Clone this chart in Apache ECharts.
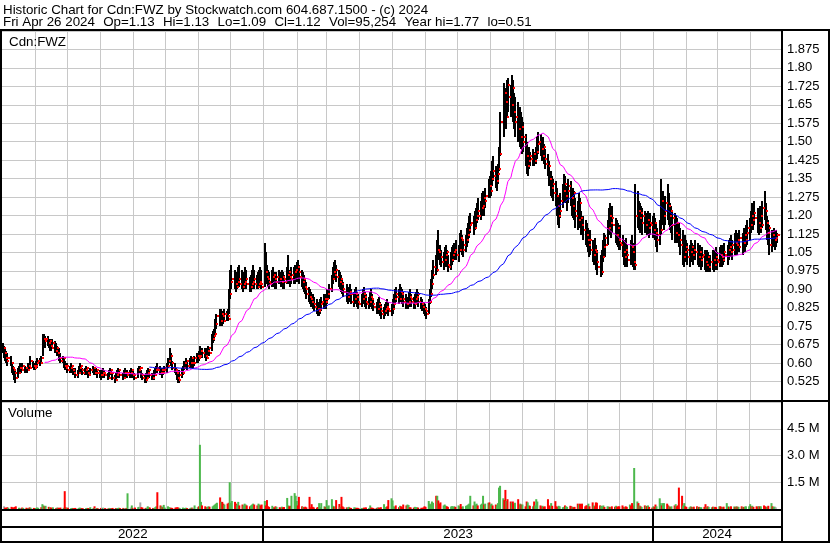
<!DOCTYPE html>
<html><head><meta charset="utf-8">
<script src="https://cdn.jsdelivr.net/npm/echarts@6/dist/echarts.min.js"></script>
<style>html,body{margin:0;padding:0;background:#fff}#c{width:830px;height:543px}</style>
</head><body><div id="c"></div>
<script>
// ---------------- DATA (daily, trading days from 2022-05-02 to 2024-04-26) ----------------
const titleLine1 = 'Historic Chart for Cdn:FWZ by Stockwatch.com 604.687.1500 - (c) 2024';
const titleFields2 = ['Fri Apr 26 2024', 'Op=1.13', 'Hi=1.13', 'Lo=1.09', 'Cl=1.12', 'Vol=95,254', 'Year hi=1.77', 'lo=0.51'];
const symbolLabel = 'Cdn:FWZ';
const volumeLabel = 'Volume';
const yearLabels = ['2022', '2023', '2024'];

const highs = [
/*2022-05*/ .68,.67,.66,.65,.64,.63,.60,.59,.58,.57,.58,.59,.60,.59,.60,.59,.58,.60,.59,.63,.61,.60,
/*2022-06*/ .60,.61,.62,.62,.63,.72,.72,.71,.71,.70,.70,.69,.70,.69,.68,.67,.66,.64,.63,.62,.61,.60,
/*2022-07*/ .60,.59,.60,.59,.58,.58,.57,.59,.60,.59,.58,.58,.59,.58,.57,.58,.59,.58,.57,.58,.57,
/*2022-08*/ .57,.56,.57,.58,.57,.56,.57,.58,.57,.56,.55,.56,.57,.58,.57,.56,.57,.58,.57,.57,.57,.58,.57,
/*2022-09*/ .57,.56,.58,.59,.59,.57,.56,.55,.56,.57,.58,.57,.56,.57,.58,.59,.60,.59,.58,.57,.58,.59,
/*2022-10*/ .60,.62,.66,.64,.61,.60,.58,.57,.56,.57,.58,.59,.61,.62,.61,.62,.63,.62,.61,.63,.64,
/*2022-11*/ .64,.65,.67,.66,.66,.65,.66,.67,.66,.72,.73,.74,.78,.80,.82,.82,.81,.80,.82,.81,.82,.90,
/*2022-12*/ .98,1.00,.98,.97,.96,.99,1.00,.98,.96,.97,.99,.98,.95,.96,.98,1.00,.98,.96,.97,.98,.99,.98,
/*2023-01*/ 1.09,1.05,1.00,.98,.97,.98,.99,.97,.96,.97,.98,.97,.98,.97,.96,.99,1.04,.98,.97,.99,.99,1.00,
/*2023-02*/ 1.01,1.02,1.00,.98,.97,.96,.94,.93,.91,.90,.89,.88,.87,.86,.85,.84,.86,.87,.88,.87,
/*2023-03*/ .88,.90,.92,.96,.99,1.01,1.02,1.00,.98,.97,.96,.94,.93,.92,.90,.91,.92,.90,.89,.90,.91,.89,.88,
/*2023-04*/ .88,.90,.91,.89,.88,.87,.89,.90,.88,.86,.85,.86,.87,.85,.84,.83,.84,.85,.86,.85,
/*2023-05*/ .84,.86,.88,.90,.91,.90,.92,.91,.90,.89,.88,.87,.89,.90,.88,.87,.88,.89,.90,.89,.87,.86,.85,
/*2023-06*/ .84,.83,.86,.90,.94,.98,1.02,1.04,1.10,1.14,1.08,1.06,1.05,1.07,1.08,1.06,1.04,1.05,1.07,1.08,1.09,1.10,
/*2023-07*/ 1.08,1.13,1.14,1.12,1.10,1.12,1.15,1.17,1.20,1.21,1.20,1.22,1.23,1.25,1.27,1.26,1.29,1.30,1.28,1.31,1.35,
/*2023-08*/ 1.36,1.38,1.42,1.44,1.40,1.39,1.41,1.48,1.62,1.74,1.72,1.70,1.75,1.76,1.73,1.77,1.75,1.70,1.68,1.66,1.64,1.62,1.60,
/*2023-09*/ 1.58,1.53,1.50,1.46,1.48,1.46,1.47,1.46,1.48,1.52,1.54,1.53,1.50,1.52,1.49,1.47,1.45,1.42,1.38,1.36,1.35,
/*2023-10*/ 1.34,1.31,1.28,1.25,1.29,1.33,1.37,1.36,1.32,1.35,1.34,1.30,1.31,1.30,1.27,1.26,1.29,1.27,1.22,1.20,1.18,1.17,
/*2023-11*/ 1.15,1.13,1.14,1.10,1.09,1.11,1.08,1.06,1.04,1.06,1.10,1.13,1.12,1.18,1.23,1.25,1.22,1.24,1.19,1.18,1.17,1.16,
/*2023-12*/ 1.16,1.12,1.10,1.09,1.11,1.08,1.10,1.12,1.09,1.06,1.33,1.30,1.26,1.25,1.24,1.23,1.22,1.21,1.22,1.20,1.21,
/*2024-01*/ 1.20,1.21,1.19,1.17,1.15,1.18,1.35,1.30,1.26,1.28,1.33,1.29,1.25,1.24,1.22,1.21,1.20,1.19,1.17,1.15,1.14,1.10,1.12,
/*2024-02*/ 1.10,1.09,1.08,1.10,1.09,1.08,1.10,1.09,1.07,1.08,1.06,1.07,1.06,1.05,1.06,1.05,1.04,1.06,1.05,1.06,1.07,
/*2024-03*/ 1.05,1.07,1.08,1.06,1.08,1.09,1.08,1.10,1.11,1.12,1.10,1.13,1.14,1.12,1.13,1.14,1.13,1.15,1.14,1.16,1.18,
/*2024-04*/ 1.19,1.22,1.25,1.24,1.26,1.23,1.21,1.24,1.22,1.26,1.30,1.25,1.20,1.18,1.16,1.14,1.15,1.13,1.14,1.13
];
const lows = [
/*2022-05*/ .64,.62,.61,.60,.59,.59,.56,.55,.53,.52,.54,.56,.57,.56,.57,.56,.56,.57,.57,.58,.58,.57,
/*2022-06*/ .57,.58,.58,.59,.60,.63,.67,.66,.67,.66,.65,.65,.66,.64,.64,.63,.61,.60,.60,.58,.57,.57,
/*2022-07*/ .56,.56,.57,.56,.55,.54,.54,.56,.57,.56,.55,.55,.56,.55,.54,.55,.56,.55,.55,.55,.54,
/*2022-08*/ .54,.53,.54,.55,.54,.53,.54,.55,.55,.53,.52,.53,.54,.55,.54,.53,.54,.55,.54,.54,.54,.55,.54,
/*2022-09*/ .54,.53,.54,.56,.56,.54,.53,.52,.52,.54,.55,.54,.53,.53,.55,.56,.56,.55,.55,.54,.55,.56,
/*2022-10*/ .56,.58,.60,.59,.57,.56,.55,.53,.52,.52,.54,.55,.57,.58,.57,.58,.59,.58,.58,.59,.60,
/*2022-11*/ .60,.61,.62,.62,.62,.61,.62,.63,.63,.65,.68,.69,.71,.74,.75,.76,.75,.76,.77,.77,.77,.80,
/*2022-12*/ .86,.90,.90,.89,.90,.91,.91,.90,.89,.90,.91,.90,.89,.89,.90,.91,.90,.90,.90,.91,.91,.90,
/*2023-01*/ .91,.93,.92,.91,.90,.91,.92,.91,.90,.90,.92,.91,.92,.90,.90,.92,.94,.92,.91,.92,.92,.92,
/*2023-02*/ .93,.94,.92,.91,.90,.89,.88,.86,.85,.84,.83,.82,.81,.80,.79,.79,.80,.81,.82,.82,
/*2023-03*/ .82,.84,.86,.89,.92,.94,.94,.93,.91,.90,.89,.88,.87,.85,.84,.85,.86,.84,.83,.84,.85,.83,.82,
/*2023-04*/ .83,.84,.85,.83,.82,.82,.83,.84,.82,.81,.80,.80,.81,.79,.78,.78,.79,.80,.80,.79,
/*2023-05*/ .79,.80,.82,.84,.85,.84,.85,.85,.84,.83,.82,.82,.83,.84,.83,.82,.82,.84,.85,.83,.82,.81,.80,
/*2023-06*/ .79,.78,.80,.84,.87,.90,.94,.96,.97,1.02,1.00,.99,.98,.99,1.01,.99,.97,.98,1.00,1.01,1.02,1.02,
/*2023-07*/ 1.01,1.05,1.08,1.04,1.03,1.05,1.07,1.09,1.11,1.13,1.12,1.14,1.15,1.17,1.18,1.18,1.20,1.21,1.20,1.23,1.27,
/*2023-08*/ 1.27,1.28,1.32,1.34,1.31,1.30,1.33,1.38,1.44,1.52,1.58,1.55,1.60,1.62,1.60,1.62,1.58,1.55,1.52,1.50,1.48,1.47,1.45,
/*2023-09*/ 1.46,1.40,1.37,1.36,1.39,1.40,1.40,1.40,1.41,1.43,1.45,1.44,1.42,1.43,1.41,1.39,1.36,1.32,1.28,1.27,1.26,
/*2023-10*/ 1.24,1.20,1.16,1.15,1.19,1.23,1.26,1.25,1.22,1.25,1.24,1.20,1.19,1.18,1.15,1.14,1.17,1.15,1.12,1.10,1.08,1.07,
/*2023-11*/ 1.05,1.03,1.04,1.01,1.00,1.02,.98,.96,.95,.96,1.01,1.04,1.03,1.08,1.12,1.14,1.11,1.13,1.09,1.08,1.07,1.06,
/*2023-12*/ 1.06,1.03,1.00,.99,1.01,.99,1.00,1.02,.99,.98,.98,1.15,1.14,1.13,1.14,1.12,1.13,1.12,1.13,1.11,1.12,
/*2024-01*/ 1.11,1.12,1.10,1.07,1.05,1.08,1.12,1.16,1.14,1.16,1.18,1.16,1.14,1.13,1.10,1.09,1.10,1.09,1.07,1.04,1.00,.99,1.01,
/*2024-02*/ 1.01,1.00,.99,1.01,1.01,1.00,1.02,1.00,.99,1.00,.98,.99,.98,.97,.98,.97,.97,.98,.97,.98,.99,
/*2024-03*/ .98,.99,1.00,.99,1.00,1.01,1.00,1.02,1.03,1.03,1.02,1.04,1.05,1.04,1.05,1.05,1.04,1.06,1.05,1.07,1.08,
/*2024-04*/ 1.10,1.13,1.15,1.14,1.16,1.13,1.12,1.14,1.13,1.15,1.18,1.14,1.10,1.08,1.04,1.05,1.07,1.06,1.07,1.09
];
const closes = [
/*2022-05*/ .66,.64,.62,.61,.62,.60,.58,.57,.56,.54,.56,.58,.58,.57,.59,.58,.57,.59,.58,.61,.59,.58,
/*2022-06*/ .59,.60,.61,.60,.62,.70,.69,.70,.68,.69,.67,.66,.68,.65,.66,.64,.62,.61,.62,.59,.58,.59,
/*2022-07*/ .57,.58,.59,.57,.56,.55,.56,.58,.59,.57,.56,.57,.58,.56,.55,.57,.58,.56,.56,.57,.56,
/*2022-08*/ .55,.55,.56,.56,.55,.54,.56,.57,.56,.54,.53,.55,.56,.57,.55,.54,.56,.56,.55,.56,.56,.57,.55,
/*2022-09*/ .55,.54,.57,.58,.58,.55,.54,.53,.54,.56,.57,.55,.54,.55,.57,.58,.57,.56,.57,.56,.57,.58,
/*2022-10*/ .59,.61,.63,.60,.58,.57,.56,.54,.53,.55,.56,.58,.60,.61,.59,.60,.62,.60,.60,.62,.63,
/*2022-11*/ .62,.63,.65,.64,.63,.62,.65,.66,.64,.70,.71,.72,.76,.79,.77,.80,.79,.77,.80,.79,.78,.88,
/*2022-12*/ .93,.94,.92,.91,.93,.94,.92,.91,.92,.93,.94,.92,.91,.92,.93,.94,.92,.91,.92,.93,.92,.91,
/*2023-01*/ .97,.95,.94,.93,.92,.95,.96,.94,.93,.95,.94,.93,.95,.94,.93,.96,.97,.95,.94,.96,.97,.98,
/*2023-02*/ .99,.97,.95,.93,.94,.91,.90,.88,.87,.86,.85,.84,.83,.82,.81,.82,.84,.85,.86,.85,
/*2023-03*/ .86,.88,.90,.94,.97,.96,.98,.95,.93,.94,.92,.90,.89,.87,.88,.89,.88,.85,.86,.88,.87,.85,.84,
/*2023-04*/ .86,.88,.87,.85,.84,.85,.87,.86,.84,.83,.82,.84,.83,.81,.80,.81,.82,.83,.82,.81,
/*2023-05*/ .82,.84,.86,.88,.87,.86,.89,.88,.86,.85,.84,.85,.87,.86,.85,.84,.86,.87,.88,.85,.84,.83,.82,
/*2023-06*/ .81,.80,.85,.88,.92,.96,.99,.98,1.06,1.05,1.03,1.01,1.02,1.04,1.05,1.00,.99,1.02,1.04,1.05,1.06,1.04,
/*2023-07*/ 1.06,1.11,1.10,1.06,1.08,1.10,1.12,1.14,1.16,1.17,1.15,1.18,1.20,1.22,1.20,1.23,1.24,1.27,1.26,1.28,1.32,
/*2023-08*/ 1.30,1.35,1.38,1.36,1.34,1.37,1.39,1.45,1.58,1.70,1.66,1.60,1.73,1.68,1.65,1.72,1.62,1.58,1.60,1.55,1.52,1.56,1.50,
/*2023-09*/ 1.52,1.44,1.40,1.42,1.44,1.43,1.45,1.42,1.46,1.49,1.50,1.47,1.44,1.48,1.43,1.41,1.40,1.35,1.31,1.33,1.29,
/*2023-10*/ 1.28,1.24,1.20,1.22,1.26,1.30,1.33,1.28,1.30,1.32,1.27,1.24,1.29,1.22,1.20,1.18,1.25,1.19,1.16,1.14,1.12,1.10,
/*2023-11*/ 1.08,1.10,1.06,1.04,1.06,1.05,1.01,.99,.97,1.03,1.07,1.11,1.08,1.15,1.20,1.17,1.19,1.16,1.12,1.15,1.10,1.09,
/*2023-12*/ 1.08,1.05,1.03,1.06,1.04,1.02,1.07,1.05,1.01,1.00,1.20,1.22,1.19,1.21,1.17,1.20,1.16,1.18,1.15,1.17,1.16,
/*2024-01*/ 1.14,1.17,1.13,1.10,1.12,1.14,1.26,1.20,1.22,1.25,1.24,1.20,1.22,1.16,1.19,1.13,1.17,1.12,1.10,1.08,1.03,1.05,1.07,
/*2024-02*/ 1.06,1.03,1.05,1.07,1.04,1.06,1.05,1.03,1.05,1.02,1.03,1.04,1.01,1.00,1.03,.99,1.01,1.02,1.00,1.03,1.02,
/*2024-03*/ 1.01,1.04,1.03,1.02,1.05,1.04,1.06,1.07,1.05,1.08,1.06,1.09,1.08,1.10,1.07,1.11,1.09,1.12,1.10,1.13,1.15,
/*2024-04*/ 1.16,1.20,1.18,1.21,1.19,1.17,1.15,1.20,1.16,1.23,1.22,1.17,1.13,1.15,1.08,1.12,1.10,1.11,1.12,1.12
];
// volume in thousands of shares
const volumesK = [
/*2022-05*/ 150,80,60,100,70,120,90,80,110,150,70,60,50,80,60,70,50,60,90,70,60,50,
/*2022-06*/ 60,80,70,100,270,200,150,180,120,100,80,70,90,60,80,70,60,80,70,1000,90,70,
/*2022-07*/ 70,50,60,40,50,60,50,80,60,50,40,50,60,50,40,100,60,150,50,60,40,
/*2022-08*/ 60,50,70,60,50,40,60,50,40,60,50,40,60,70,50,60,40,50,60,880,80,200,60,
/*2022-09*/ 60,80,100,120,370,100,80,60,70,150,100,80,60,50,100,150,940,200,150,100,230,80,
/*2022-10*/ 150,100,80,70,60,80,90,100,70,60,80,50,60,70,50,60,80,70,60,200,100,
/*2022-11*/ 150,3600,400,200,150,100,120,150,130,150,200,250,300,350,650,400,400,300,250,300,350,1500,
/*2022-12*/ 350,450,400,300,250,400,200,250,200,300,250,200,150,200,250,300,250,200,300,250,200,250,
/*2023-01*/ 450,200,500,150,120,180,100,90,150,120,100,80,130,90,110,620,200,150,180,740,890,740,
/*2023-02*/ 450,200,680,150,120,100,130,90,680,100,270,120,90,80,110,330,100,330,150,120,
/*2023-03*/ 500,150,200,550,180,120,150,500,280,120,680,150,100,90,80,120,70,60,90,80,60,70,50,
/*2023-04*/ 60,50,80,70,90,60,200,80,70,50,60,90,80,70,100,270,90,120,150,500,
/*2023-05*/ 600,480,150,120,200,100,180,150,100,250,200,250,220,100,90,80,120,100,90,80,70,60,90,
/*2023-06*/ 150,120,450,300,250,420,350,740,740,480,300,370,200,250,180,150,120,140,160,130,150,120,
/*2023-07*/ 200,150,280,120,150,180,200,250,300,740,200,420,250,300,200,250,300,740,250,300,350,
/*2023-08*/ 370,250,300,200,250,200,330,1200,1300,600,500,1070,450,550,420,350,420,300,350,550,250,300,250,
/*2023-09*/ 250,150,420,370,200,180,150,420,200,550,420,200,150,180,120,150,550,200,150,330,180,
/*2023-10*/ 440,150,120,180,150,100,120,200,150,120,180,150,120,100,120,300,250,300,280,300,150,200,
/*2023-11*/ 200,300,150,370,200,150,370,350,200,180,150,200,120,150,130,120,100,150,130,180,120,150,
/*2023-12*/ 150,200,120,100,150,120,250,180,330,200,2300,420,330,200,150,120,200,180,150,200,120,
/*2024-01*/ 80,150,120,250,150,600,330,200,330,330,300,200,150,120,150,200,270,150,200,1200,740,200,330,
/*2024-02*/ 150,120,100,150,120,100,130,150,110,120,90,100,120,270,100,150,120,100,130,110,120,
/*2024-03*/ 100,150,150,120,100,130,330,150,120,130,150,140,120,150,130,120,150,100,120,130,150,
/*2024-04*/ 150,270,150,180,120,150,130,160,140,150,200,150,120,130,180,330,150,120,130,95
];

// ---------------- BUILD ----------------
const axisMin = new Date(2022, 4, 1).getTime();
const axisMax = new Date(2024, 3, 30).getTime();
const dates = [];
(function () {
  const d = new Date(2022, 4, 2);
  while (dates.length < closes.length) {
    const wd = d.getDay();
    if (wd !== 0 && wd !== 6) dates.push(d.getTime());
    d.setDate(d.getDate() + 1);
  }
})();
// month boundaries inside the axis range (for the vertical grid)
const monthStarts = [];
(function () {
  let y = 2022, m = 5;
  for (;;) {
    const t = new Date(y, m, 1).getTime();
    if (t >= axisMax) break;
    monthStarts.push(t);
    m++; if (m > 11) { m = 0; y++; }
  }
})();

const barData = dates.map((t, i) => [t, highs[i], lows[i], closes[i]]);
function sma(n) {
  const out = [];
  let s = 0;
  for (let i = 0; i < closes.length; i++) {
    s += closes[i];
    if (i >= n) s -= closes[i - n];
    if (i >= n - 1) out.push([dates[i], s / n]);
  }
  return out;
}
const RED = '#ff0000', GREEN = '#4cb84c', GRAY = '#a8a8a8';
const volData = dates.map((t, i) => {
  const c = i === 0 ? GRAY : closes[i] > closes[i - 1] ? GREEN : closes[i] < closes[i - 1] ? RED : GRAY;
  return { value: [t, volumesK[i]], itemStyle: { color: c } };
});

const FONT = '"Liberation Sans", Arial, sans-serif';
const FS = 13.33;
const GRIDC = '#c8c8c8';
function fmtPrice(v) { let s = v.toFixed(3); if (s.endsWith('0')) s = s.slice(0, -1); return s; }

const grids = [
  { left: 2, top: 31, width: 779, height: 369 },
  { left: 2, top: 402, width: 779, height: 107 },
  { left: 2, top: 511, width: 779, height: 30 }
];
const xAxes = grids.map((g, i) => ({
  type: 'time', gridIndex: i, min: axisMin, max: axisMax,
  axisLabel: { show: false }, axisTick: { show: false }, axisLine: { show: false },
  splitLine: { show: false }
}));
const yAxes = [
  { type: 'value', gridIndex: 0, position: 'right', min: 0.45, max: 1.95, interval: 0.075,
    axisLine: { show: false }, axisTick: { show: false },
    axisLabel: { show: true, margin: 6, color: '#000', fontSize: 13, fontFamily: FONT, formatter: fmtPrice, showMinLabel: false, showMaxLabel: false },
    splitLine: { show: true, lineStyle: { color: GRIDC, width: 1 } } },
  { type: 'value', gridIndex: 1, position: 'right', min: 0, max: 6000, interval: 1500,
    axisLine: { show: false }, axisTick: { show: false },
    axisLabel: { show: true, margin: 6, color: '#000', fontSize: 13, fontFamily: FONT, formatter: v => (v / 1000).toFixed(1) + ' M', showMinLabel: false, showMaxLabel: false },
    splitLine: { show: true, lineStyle: { color: GRIDC, width: 1 } } },
  { type: 'value', gridIndex: 2, min: 0, max: 1, show: false }
];

function monthGrid(i) {
  return { type: 'custom', xAxisIndex: i, yAxisIndex: i, z: 1, silent: true, clip: true,
    data: monthStarts.map(t => [t, 0]),
    renderItem: (params, api) => {
      const cs = params.coordSys;
      const x = Math.round(api.coord([api.value(0), api.value(1)])[0]) + 0.5;
      return { type: 'line', shape: { x1: x, y1: cs.y, x2: x, y2: cs.y + cs.height }, style: { stroke: GRIDC, lineWidth: 1 } };
    } };
}

const series = [
  monthGrid(0),
  monthGrid(1),
  { type: 'custom', name: 'hl', xAxisIndex: 0, yAxisIndex: 0, clip: true, z: 3,
    data: barData,
    renderItem: (params, api) => {
      const t = api.value(0);
      const p1 = api.coord([t, api.value(1)]), p2 = api.coord([t, api.value(2)]);
      const x = Math.round(p1[0]);
      const y1 = Math.round(p1[1]);
      return { type: 'rect', shape: { x: x - 1, y: y1, width: 2, height: Math.max(1, Math.round(p2[1]) - y1) }, style: { fill: '#000' } };
    } },
  { type: 'custom', name: 'close', xAxisIndex: 0, yAxisIndex: 0, clip: true, z: 4,
    data: barData,
    renderItem: (params, api) => {
      const t = api.value(0);
      const pc = api.coord([t, api.value(3)]);
      const x = Math.round(pc[0]);
      return { type: 'rect', shape: { x: x + 1, y: Math.round(pc[1]) - 1, width: 2, height: 2 }, style: { fill: RED } };
    } },
  { type: 'line', name: 'ma30', xAxisIndex: 0, yAxisIndex: 0, data: sma(30), showSymbol: false, z: 5,
    lineStyle: { color: '#ff00ff', width: 1 }, itemStyle: { color: '#ff00ff' } },
  { type: 'line', name: 'ma100', xAxisIndex: 0, yAxisIndex: 0, data: sma(100), showSymbol: false, z: 5,
    lineStyle: { color: '#0000ff', width: 1 }, itemStyle: { color: '#0000ff' } },
  { type: 'bar', name: 'vol', xAxisIndex: 1, yAxisIndex: 1, data: volData, barWidth: 2, z: 3 },
  { type: 'custom', name: 'years', xAxisIndex: 2, yAxisIndex: 2, clip: false, z: 5,
    data: yearLabels.map(y => [new Date(+y, 6, 1).getTime(), 0.5]),
    renderItem: (params, api) => {
      const i = params.dataIndex;
      const yr = +yearLabels[i];
      const cs = params.coordSys;
      const s = Math.max(new Date(yr, 0, 1).getTime(), axisMin);
      const e = Math.min(new Date(yr + 1, 0, 1).getTime(), axisMax);
      const xs = api.coord([s, 0])[0], xe = api.coord([e, 0])[0];
      const ch = [{ type: 'text', style: { text: yearLabels[i], x: (xs + xe) / 2, y: cs.y + cs.height - 6.5, align: 'center', verticalAlign: 'middle', fontSize: FS, fontFamily: FONT, fill: '#000' } }];
      if (s > axisMin) ch.push({ type: 'rect', shape: { x: Math.round(xs) - 1, y: cs.y, width: 2, height: cs.height }, style: { fill: '#000' } });
      return { type: 'group', children: ch };
    } }
];

// header line 2: fields laid out with a fixed gap, using measured text widths
const measureCtx = document.createElement('canvas').getContext('2d');
measureCtx.font = FS + 'px ' + FONT;
const headerGap = 8.3;
const line2 = [];
(function () {
  let x = 3;
  titleFields2.forEach(f => {
    line2.push({ type: 'text', z: 50, x: x, y: 22, style: { text: f, fontSize: FS, fontFamily: FONT, fill: '#000', verticalAlign: 'middle' } });
    x += measureCtx.measureText(f).width + headerGap;
  });
})();

function bar(x, y, w, h) { return { type: 'rect', z: 50, shape: { x, y, width: w, height: h }, style: { fill: '#000' } }; }
const graphic = [
  { type: 'text', z: 50, x: 3, y: 10, style: { text: titleLine1, fontSize: FS, fontFamily: FONT, fill: '#000', verticalAlign: 'middle' } },
  ...line2,
  { type: 'text', z: 50, x: 9, y: 42, style: { text: symbolLabel, fontSize: FS, fontFamily: FONT, fill: '#000', verticalAlign: 'middle' } },
  { type: 'text', z: 50, x: 8, y: 413, style: { text: volumeLabel, fontSize: FS, fontFamily: FONT, fill: '#000', verticalAlign: 'middle' } },
  bar(0, 29, 830, 2),     // header separator
  bar(0, 29, 2, 514),     // left border
  bar(828, 29, 2, 514),   // right border
  bar(781, 29, 2, 514),   // axis column divider
  bar(0, 400, 830, 2),    // price / volume separator
  bar(0, 509, 783, 2),    // below volume
  bar(0, 526, 783, 2),    // above years
  bar(0, 541, 830, 2)     // bottom border
];

const chart = echarts.init(document.getElementById('c'), null, { renderer: 'canvas' });
chart.setOption({
  animation: false,
  backgroundColor: '#fff',
  grid: grids,
  xAxis: xAxes,
  yAxis: yAxes,
  series,
  graphic
});
</script>
</body></html>
